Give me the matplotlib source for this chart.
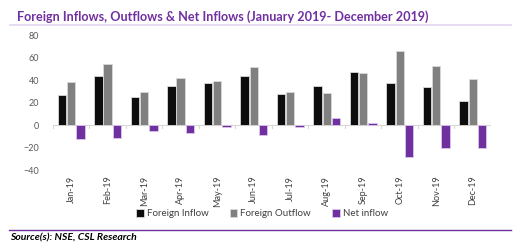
import matplotlib as mpl
mpl.use('Agg')
import matplotlib.pyplot as plt
import numpy as np

months = ['Jan-19', 'Feb-19', 'Mar-19', 'Apr-19', 'May-19', 'Jun-19',
          'Jul-19', 'Aug-19', 'Sep-19', 'Oct-19', 'Nov-19', 'Dec-19']
inflow = [27, 43.5, 25, 34.7, 37, 43.5, 28, 34.7, 47.4, 37, 33.5, 21.6]
outflow = [38.5, 54, 29.6, 41.5, 39, 52, 29, 28.4, 46, 66, 52.4, 41]
net = [-12, -11.5, -5, -7, -2, -8.6, -2, 6, 1.5, -28.4, -20.5, -20.5]

purple = '#7030A0'
plt.rcParams['font.family'] = ['Lato', 'DejaVu Sans']

fig = plt.figure(figsize=(5.24, 2.52), dpi=100)
ax = fig.add_axes([0.101, 0.325, 0.836, 0.536])

x = np.arange(len(months))
w = 0.23
edge = dict(edgecolor='#d9d9d9', linewidth=0.6)
ax.bar(x - 0.25, inflow, w, color='#0d0d0d', label='Foreign Inflow', **edge)
ax.bar(x, outflow, w, color='#808080', label='Foreign Outflow', **edge)
ax.bar(x + 0.25, net, w, color=purple, label='Net inflow', edgecolor='#d9c8ea', linewidth=0.6)

ax.set_xlim(-0.5, len(months) - 0.5)
ax.set_ylim(-40, 80)
ax.set_yticks([-40, -20, 0, 20, 40, 60, 80])
for s in ax.spines.values():
    s.set_visible(False)
ax.axhline(0, color='#d9d9d9', lw=0.8, zorder=0)
# boundary ticks on the zero line
for b in np.arange(-0.5, len(months), 1):
    ax.plot([b, b], [0, -2.5], color='#d9d9d9', lw=0.8, zorder=0)

ax.set_xticks(x)
ax.set_xticklabels(months, rotation=90, fontsize=6.5, color='#404040')
ax.tick_params(axis='x', length=0, pad=4)
ax.tick_params(axis='y', length=0, labelsize=6.5, labelcolor='#595959', pad=10)

fig.legend(loc='center', bbox_to_anchor=(0.5, 0.151), ncol=3, frameon=False,
           fontsize=7, handlelength=0.8, handleheight=0.8, columnspacing=2.2,
           handletextpad=0.3, labelcolor='#404040')

fig.text(17 / 524, 1 - 17 / 252, 'Foreign Inflows, Outflows & Net Inflows (January 2019- December 2019)',
         color=purple, fontsize=9.1, fontweight='bold', va='center', ha='left')
fig.add_artist(plt.Line2D([10 / 524, 511 / 524], [1 - 25 / 252, 1 - 25 / 252],
                          color='#e3d4f0', lw=1.2, transform=fig.transFigure))
fig.add_artist(plt.Line2D([9 / 524, 511 / 524], [1 - 230 / 252, 1 - 230 / 252],
                          color=purple, lw=1.0, transform=fig.transFigure))
fig.text(10 / 524, 1 - 238 / 252, 'Source(s): NSE, CSL Research', fontsize=7.5,
         fontweight='bold', fontstyle='italic', va='center', ha='left', color='#000000')

fig.savefig('out.png', dpi=100)
